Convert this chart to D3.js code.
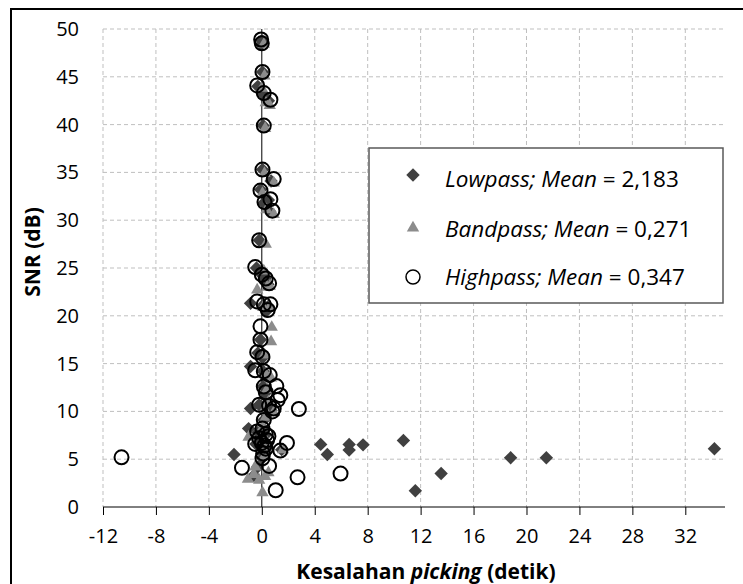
<!DOCTYPE html>
<html>
  <head>
    <meta charset="utf-8" />
    <script src="https://d3js.org/d3.v7.min.js"></script>
    <title>SNR vs kesalahan picking</title>
    <style>
      body { margin: 0; background: #fff; }
      text { font-family: "Open Sans", "Liberation Sans", sans-serif; fill: #000; }
      .grid line { stroke: #bfbfbf; stroke-width: 1px; stroke-dasharray: 4,3; }
      .tick-label { font-size: 20px; }
      .title { font-size: 21px; font-weight: bold; }
      .legend-text { font-size: 22.5px; }
    </style>
  </head>
  <body>

    <svg id="chart" width="743" height="584"></svg>

    <script>

      // x = kesalahan picking (detik), y = SNR (dB)
      var lowpass = [
        [0.0, 48.8], [-0.05, 48.4], [0.05, 45.5], [-0.3, 44.0], [0.1, 43.2],
        [0.5, 42.5], [0.1, 39.9], [0.05, 35.3], [0.7, 34.1], [-0.1, 33.2],
        [0.5, 32.1], [0.15, 31.8], [0.6, 30.9], [-0.2, 27.9], [-0.4, 25.0],
        [0.0, 24.3], [0.25, 23.9], [0.45, 23.3], [-0.85, 21.3], [0.1, 21.1],
        [0.5, 21.0], [0.35, 20.5], [-0.1, 17.5], [-0.3, 16.1], [0.05, 15.6],
        [-0.85, 14.7], [0.1, 14.2], [0.1, 12.6], [0.25, 11.9], [-0.85, 10.3],
        [-0.2, 10.7], [0.45, 10.5], [0.7, 10.1], [0.15, 9.1], [-1.0, 8.2],
        [0.05, 8.0], [-0.3, 7.8], [0.25, 7.5], [-0.2, 7.1], [0.0, 6.7],
        [-0.45, 6.6], [0.25, 6.1], [0.1, 5.6], [0.05, 5.1], [1.5, 6.0],
        [-2.1, 5.5], [-0.3, 4.2], [-0.6, 3.3],
        [4.45, 6.55], [4.95, 5.5], [6.6, 6.55], [6.6, 5.95], [7.65, 6.5],
        [10.7, 6.95], [11.6, 1.7], [13.55, 3.5], [18.8, 5.15], [21.5, 5.15],
        [34.2, 6.1]
      ];

      var bandpass = [
        [0.15, 48.4], [0.2, 45.1], [0.0, 43.8], [0.3, 42.3], [0.6, 42.0],
        [0.25, 39.6], [0.2, 34.9], [0.9, 33.9], [0.05, 32.8], [0.35, 31.1],
        [0.9, 30.6], [0.3, 27.5], [0.15, 24.7], [0.4, 23.0], [0.6, 23.1],
        [-0.35, 22.7], [0.1, 20.9], [0.6, 20.9], [0.75, 18.8], [0.7, 17.3],
        [0.2, 15.9], [0.3, 13.9], [0.7, 13.5], [0.4, 12.3], [0.5, 11.0],
        [0.2, 10.2], [0.9, 9.9], [0.3, 9.4], [0.1, 8.4], [-1.0, 7.3],
        [0.3, 7.0], [0.15, 6.3], [1.6, 6.0], [0.2, 5.3], [-0.5, 4.2],
        [0.5, 3.6], [-0.6, 3.4], [-1.05, 2.9], [-0.2, 2.8], [0.25, 3.2],
        [0.05, 1.5]
      ];

      var highpass = [
        [-0.05, 48.9], [0.0, 48.5], [0.05, 45.5], [-0.35, 44.1], [0.15, 43.3],
        [0.65, 42.6], [0.15, 39.9], [0.05, 35.3], [0.9, 34.3], [-0.1, 33.1],
        [0.65, 32.2], [0.2, 31.9], [0.8, 31.0], [-0.2, 27.9], [-0.5, 25.1],
        [0.0, 24.3], [0.3, 23.9], [0.55, 23.4], [-0.35, 21.5], [0.15, 21.2],
        [0.65, 21.2], [0.45, 20.6], [-0.1, 18.9], [-0.1, 17.5], [-0.35, 16.2],
        [0.05, 15.7], [-0.5, 14.3], [0.15, 14.2], [0.6, 13.8], [0.15, 12.6],
        [1.1, 12.65], [0.3, 12.0], [1.4, 11.7], [1.2, 11.2], [-0.2, 10.7],
        [0.55, 10.6], [0.9, 10.3], [0.8, 10.0], [2.8, 10.25], [0.15, 9.1],
        [0.05, 8.2], [-0.35, 7.9], [0.3, 7.6], [-0.2, 7.2], [0.5, 7.4],
        [0.4, 7.0], [0.0, 6.7], [-0.5, 6.6], [0.2, 6.4], [0.3, 6.1],
        [0.1, 5.6], [0.05, 5.1], [1.9, 6.7], [1.4, 5.9], [0.55, 4.3],
        [-1.5, 4.1], [2.7, 3.1], [5.95, 3.5], [1.05, 1.75], [-10.6, 5.2]
      ];

      var xTicks = [-12, -8, -4, 0, 4, 8, 12, 16, 20, 24, 28, 32];
      var yTicks = [0, 5, 10, 15, 20, 25, 30, 35, 40, 45, 50];

      var legendLabels = [
        { name: "Lowpass;", mean: "2,183" },
        { name: "Bandpass;", mean: "0,271" },
        { name: "Highpass;", mean: "0,347" }
      ];

      var svg = d3.select("#chart");

      var x = d3.scaleLinear().domain([-12, 35]).range([103, 725]);
      var y = d3.scaleLinear().domain([0, 50]).range([507, 29]);

      // outer frame (runs off the right and bottom edge)
      svg.append("rect")
        .attr("x", 11).attr("y", 9)
        .attr("width", 800).attr("height", 700)
        .attr("fill", "none")
        .attr("stroke", "#000")
        .attr("stroke-width", 2);

      // gridlines
      var grid = svg.append("g").attr("class", "grid");
      grid.selectAll(".hgrid")
        .data(yTicks.filter(function(d) { return d > 0; }))
        .enter().append("line")
        .attr("x1", x(-12)).attr("x2", x(35))
        .attr("y1", function(d) { return y(d); })
        .attr("y2", function(d) { return y(d); });
      grid.selectAll(".vgrid")
        .data(xTicks.filter(function(d) { return d !== 0; }))
        .enter().append("line")
        .attr("x1", function(d) { return x(d); })
        .attr("x2", function(d) { return x(d); })
        .attr("y1", y(50)).attr("y2", y(0));

      // x axis along SNR = 0
      var xAxis = d3.axisBottom(x)
        .tickValues(xTicks)
        .tickSize(8)
        .tickFormat(function(d) { return d < 0 ? "-" + Math.abs(d) : d; });
      var gx = svg.append("g")
        .attr("transform", "translate(0," + y(0) + ")")
        .call(xAxis);
      gx.select(".domain").attr("d", "M" + x(-12) + ",0H" + x(35)).attr("stroke", "#000");
      gx.selectAll(".tick line").attr("stroke", "#000");
      gx.selectAll(".tick text")
        .attr("class", "tick-label")
        .attr("y", 22)
        .attr("font-family", null).attr("font-size", null);

      // y axis line at x = 0, labels on the left
      svg.append("line")
        .attr("x1", x(0)).attr("x2", x(0))
        .attr("y1", y(0)).attr("y2", y(50))
        .attr("stroke", "#000");
      svg.selectAll(".ylab")
        .data(yTicks)
        .enter().append("text")
        .attr("class", "tick-label")
        .attr("x", 79)
        .attr("y", function(d) { return y(d); })
        .attr("dy", "0.35em")
        .attr("text-anchor", "end")
        .text(function(d) { return d; });

      // axis titles
      svg.append("text")
        .attr("class", "title")
        .attr("transform", "translate(40,252) rotate(-90)")
        .attr("text-anchor", "middle")
        .text("SNR (dB)");

      var xt = svg.append("text")
        .attr("class", "title")
        .attr("x", 426).attr("y", 579)
        .attr("text-anchor", "middle");
      xt.append("tspan").text("Kesalahan ");
      xt.append("tspan").attr("font-style", "italic").text("picking");
      xt.append("tspan").text(" (detik)");

      // markers
      var diamond = d3.symbol().type(d3.symbolSquare).size(90);
      var triangle = d3.symbol().type(d3.symbolTriangle).size(66);

      svg.append("g").selectAll("path")
        .data(lowpass)
        .enter().append("path")
        .attr("d", diamond)
        .attr("transform", function(d) {
          return "translate(" + x(d[0]) + "," + y(d[1]) + ") rotate(45)";
        })
        .attr("fill", "#404040");

      svg.append("g").selectAll("path")
        .data(bandpass)
        .enter().append("path")
        .attr("d", triangle)
        .attr("transform", function(d) {
          return "translate(" + x(d[0]) + "," + y(d[1]) + ")";
        })
        .attr("fill", "#8c8c8c");

      svg.append("g").selectAll("circle")
        .data(highpass)
        .enter().append("circle")
        .attr("cx", function(d) { return x(d[0]); })
        .attr("cy", function(d) { return y(d[1]); })
        .attr("r", 7)
        .attr("fill", "none")
        .attr("stroke", "#000")
        .attr("stroke-width", 2);

      // legend
      var legend = svg.append("g");
      legend.append("rect")
        .attr("x", 369).attr("y", 148)
        .attr("width", 354).attr("height", 155)
        .attr("fill", "#fff")
        .attr("stroke", "#595959")
        .attr("stroke-width", 1.5);

      var rowY = [179, 229, 277];
      legend.append("path")
        .attr("d", diamond)
        .attr("transform", "translate(413," + (rowY[0] - 4) + ") rotate(45)")
        .attr("fill", "#404040");
      legend.append("path")
        .attr("d", triangle)
        .attr("transform", "translate(413," + (rowY[1] - 1) + ")")
        .attr("fill", "#8c8c8c");
      legend.append("circle")
        .attr("cx", 413).attr("cy", rowY[2]).attr("r", 7)
        .attr("fill", "#fff").attr("stroke", "#000").attr("stroke-width", 1.5);

      legendLabels.forEach(function(d, i) {
        var t = legend.append("text")
          .attr("class", "legend-text")
          .attr("x", 445).attr("y", rowY[i])
          .attr("dy", "0.35em");
        t.append("tspan").attr("font-style", "italic").text(d.name + " ");
        t.append("tspan").attr("font-style", "italic").text("Mean");
        t.append("tspan").text(" = " + d.mean);
      });

    </script>

  </body>
</html>
